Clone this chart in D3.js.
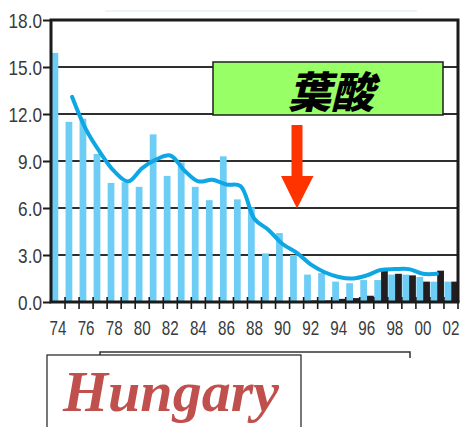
<!DOCTYPE html>
<html><head><meta charset="utf-8">
<script src="https://cdn.jsdelivr.net/npm/d3@7"></script>
<style>html,body{margin:0;padding:0;background:#fff;}svg{display:block;}</style>
</head><body>
<svg id="chart" width="460" height="427"></svg>
<script>
// Yearly rates (per 10,000 births), 1974–2002
const years = ["74","75","76","77","78","79","80","81","82","83","84","85","86","87","88","89","90","91","92","93","94","95","96","97","98","99","00","01","02"];
const seriesBlue = [15.9,11.5,11.7,9.45,7.6,7.65,7.35,10.7,8.05,8.9,7.35,6.5,9.3,6.55,6.05,3.1,4.4,3.0,1.75,1.85,1.3,1.2,1.4,1.4,1.75,1.75,1.6,1.3,1.3];
const seriesBlack = [0,0,0,0,0,0,0,0,0,0,0,0,0,0,0,0,0,0,0.1,0.1,0.2,0.25,0.4,2.1,1.8,1.7,1.3,2.0,1.3];
// Three-year moving average, 1975–2001
const trendYears = years.slice(1, 28);
const trendValues = [13.1,11.0,9.55,8.35,7.7,8.55,9.1,9.35,8.4,7.7,7.8,7.5,7.4,5.3,4.6,3.7,3.15,2.4,1.9,1.6,1.5,1.7,2.05,2.1,2.1,1.8,1.8];
const yTicks = [0,3,6,9,12,15,18];
const xTickLabels = years.filter((d,i) => i % 2 === 0);
const annotation = "葉酸";
const countryName = "Hungary";

const svg = d3.select("#chart");
const plotLeft = 51, plotRight = 458, plotTop = 20, plotBottom = 302;

const x = d3.scaleBand().domain(years).range([plotLeft, plotRight]).padding(0);
const sub = d3.scaleBand().domain(["a","b"]).range([0.5, x.bandwidth()]).padding(0);
const y = d3.scaleLinear().domain([0, 18]).range([plotBottom, plotTop]);

// faint rule above the plot
svg.append("line").attr("x1",105).attr("x2",417).attr("y1",11).attr("y2",11)
  .attr("stroke","#d3ecf7").attr("stroke-width",1.2);

// horizontal gridlines
svg.append("g").selectAll("line").data(yTicks.filter(d => d > 0 && d < 18)).join("line")
  .attr("x1", plotLeft).attr("x2", plotRight)
  .attr("y1", d => y(d)).attr("y2", d => y(d))
  .attr("stroke","#2e2e2e").attr("stroke-width",2);

// bars
svg.append("g").selectAll("rect").data(years).join("rect")
  .attr("x", d => x(d) + sub("a")).attr("width", sub.bandwidth())
  .attr("y", (d,i) => y(seriesBlue[i])).attr("height", (d,i) => y(0) - y(seriesBlue[i]))
  .attr("fill","#6dcdf4");
svg.append("g").selectAll("rect").data(years).join("rect")
  .attr("x", d => x(d) + sub("b")).attr("width", sub.bandwidth())
  .attr("y", (d,i) => y(seriesBlack[i])).attr("height", (d,i) => y(0) - y(seriesBlack[i]))
  .attr("fill","#221e1f");

// moving-average line
const line = d3.line()
  .x((d,i) => x(trendYears[i]) + x.bandwidth()/2)
  .y(d => y(d))
  .curve(d3.curveCatmullRom.alpha(0.5));
svg.append("path").datum(trendValues).attr("d", line)
  .attr("fill","none").attr("stroke","#0ea6e4").attr("stroke-width",4)
  .attr("stroke-linejoin","round").attr("stroke-linecap","round");

// plot frame
svg.append("path")
  .attr("d", `M${plotLeft},${plotBottom} V${plotTop} H${plotRight} V${plotBottom}`)
  .attr("fill","none").attr("stroke","#1b1b1b").attr("stroke-width",3);

// y axis
const yAxis = svg.append("g").attr("transform",`translate(${plotLeft},0)`)
  .call(d3.axisLeft(y).tickValues(yTicks).tickSize(8).tickPadding(0).tickFormat(d3.format(".1f")));
yAxis.select(".domain").remove();
yAxis.selectAll(".tick line").attr("stroke","#1b1b1b").attr("stroke-width",2);
yAxis.selectAll(".tick text")
  .attr("dy","0.36em")
  .attr("transform","scale(0.86,1)")
  .attr("x", -9/0.86)
  .style("font-family","'Liberation Sans', Arial, sans-serif").style("font-size","20px")
  .attr("fill","#3a3a3a");

// x axis: tick marks at category boundaries, labels every second year
const bounds = years.map(d => x(d)).concat([plotRight]);
svg.append("g").selectAll("line").data(bounds.slice(1)).join("line")
  .attr("x1", d => d).attr("x2", d => d).attr("y1", plotBottom - 5).attr("y2", plotBottom + 7)
  .attr("stroke","#1b1b1b").attr("stroke-width",1.6);
svg.append("line").attr("x1",plotLeft - 1.5).attr("x2",plotRight + 1.5).attr("y1",plotBottom).attr("y2",plotBottom)
  .attr("stroke","#1b1b1b").attr("stroke-width",3);
const xAxis = svg.append("g").attr("transform",`translate(0,${plotBottom})`)
  .call(d3.axisBottom(x).tickValues(xTickLabels).tickSize(0).tickPadding(0));
xAxis.select(".domain").remove();
xAxis.selectAll(".tick text")
  .attr("y", 33).attr("dy", 0)
  .attr("transform","scale(0.76,1)")
  .style("font-family","'Liberation Sans', Arial, sans-serif").style("font-size","20px")
  .attr("fill","#3a3a3a");

// annotation box
svg.append("rect").attr("x",213).attr("y",62).attr("width",230).attr("height",53)
  .attr("fill","#99ff66").attr("stroke","#1f1f1f").attr("stroke-width",1.5);
svg.append("text").attr("x",331).attr("y",108).attr("text-anchor","middle")
  .style("font-family","'Noto Sans CJK JP','Noto Sans CJK SC',sans-serif")
  .style("font-size","43px").style("font-weight","900").style("font-style","italic")
  .attr("fill","#000").text(annotation);

// arrow
svg.append("path")
  .attr("d","M291.5,125 L302.5,125 L302.5,176 L313.5,176 L297,208.5 L281,176 L291.5,176 Z")
  .attr("fill","#ff3300");

// country label boxes
svg.append("path").attr("d","M100,358 V352 H410 V358")
  .attr("fill","none").attr("stroke","#333").attr("stroke-width",1.5);
svg.append("rect").attr("x",47).attr("y",355).attr("width",254).attr("height",90)
  .attr("fill","#fff").attr("stroke","#1f1f1f").attr("stroke-width",1.2);
svg.append("text").attr("x",63).attr("y",411)
  .style("font-family","'Liberation Serif','Times New Roman',serif")
  .style("font-size","58px").style("font-weight","bold").style("font-style","italic")
  .attr("fill","#c0504d").text(countryName);
</script>
</body></html>
